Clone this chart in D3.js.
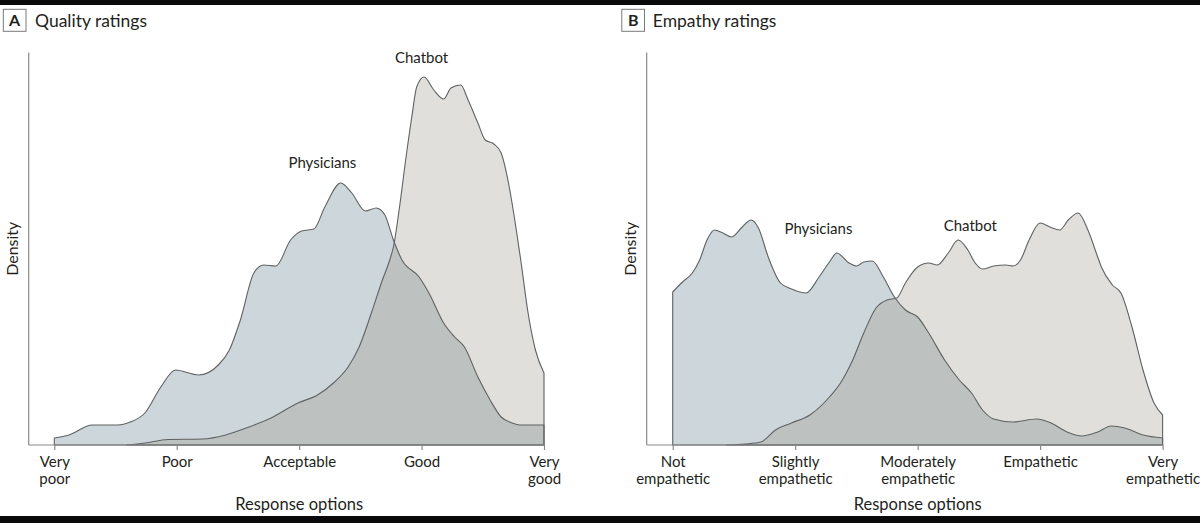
<!DOCTYPE html>
<html>
<head>
<meta charset="utf-8">
<script src="https://cdn.jsdelivr.net/npm/d3@7"></script>
<style>
  html, body { margin: 0; padding: 0; background: #fff; }
  svg { display: block; }
  text { font-family: "Lato", "Roboto", "Noto Sans", sans-serif; fill: #231f20; }
</style>
</head>
<body>
<svg id="chart" width="1200" height="523"></svg>
<script>
// ---------------- DATA ----------------
const ratingTicks = [1, 2, 3, 4, 5];
const qualityTickLabels = [["Very", "poor"], ["Poor"], ["Acceptable"], ["Good"], ["Very", "good"]];
const empathyTickLabels = [["Not", "empathetic"], ["Slightly", "empathetic"], ["Moderately", "empathetic"], ["Empathetic"], ["Very", "empathetic"]];
const seriesNames = ["Physicians", "Chatbot"];
const panelTitles = ["Quality ratings", "Empathy ratings"];
const panelLetters = ["A", "B"];

// [rating, density] (arbitrary density units)
const physQuality = [
  [1.00, 0.07], [1.12, 0.10], [1.31, 0.20], [1.52, 0.20], [1.62, 0.23], [1.74, 0.32],
  [1.87, 0.58], [1.99, 0.75], [2.18, 0.70], [2.34, 0.80], [2.43, 0.95], [2.52, 1.25],
  [2.63, 1.72], [2.71, 1.80], [2.81, 1.79], [2.93, 2.05], [3.02, 2.14], [3.12, 2.16],
  [3.21, 2.38], [3.34, 2.62], [3.43, 2.52], [3.54, 2.34], [3.63, 2.37], [3.70, 2.30],
  [3.77, 2.05], [3.84, 1.85], [3.98, 1.68], [4.06, 1.52], [4.18, 1.22], [4.27, 1.08],
  [4.35, 0.98], [4.46, 0.68], [4.56, 0.45], [4.65, 0.28], [4.74, 0.22], [4.80, 0.20],
  [5.00, 0.20]
];
const chatQuality = [
  [1.59, 0.00], [1.74, 0.02], [1.93, 0.055], [2.21, 0.06], [2.40, 0.10], [2.59, 0.18],
  [2.77, 0.27], [2.99, 0.42], [3.15, 0.50], [3.28, 0.62], [3.40, 0.78], [3.49, 0.98],
  [3.59, 1.32], [3.68, 1.65], [3.74, 1.85], [3.77, 1.98], [3.82, 2.38], [3.87, 2.85],
  [3.92, 3.28], [3.96, 3.58], [4.02, 3.68], [4.10, 3.55], [4.18, 3.46], [4.24, 3.57],
  [4.32, 3.60], [4.38, 3.45], [4.46, 3.22], [4.52, 3.05], [4.59, 3.01], [4.65, 2.92],
  [4.71, 2.62], [4.77, 2.18], [4.81, 1.85], [4.87, 1.32], [4.93, 0.95], [5.00, 0.72]
];
const physEmpathy = [
  [1.00, 1.53], [1.08, 1.63], [1.16, 1.72], [1.22, 1.85], [1.28, 2.05], [1.34, 2.15],
  [1.41, 2.12], [1.48, 2.08], [1.56, 2.17], [1.64, 2.25], [1.70, 2.17], [1.78, 1.88],
  [1.88, 1.62], [1.97, 1.56], [2.09, 1.52], [2.19, 1.67], [2.28, 1.83], [2.34, 1.92],
  [2.44, 1.82], [2.50, 1.79], [2.56, 1.83], [2.63, 1.84], [2.72, 1.68], [2.81, 1.48],
  [2.90, 1.35], [3.00, 1.28], [3.09, 1.12], [3.22, 0.85], [3.34, 0.65], [3.44, 0.52],
  [3.53, 0.35], [3.62, 0.26], [3.78, 0.23], [3.97, 0.26], [4.09, 0.22], [4.22, 0.13],
  [4.34, 0.09], [4.47, 0.13], [4.58, 0.19], [4.69, 0.17], [4.84, 0.10], [5.00, 0.07]
];
const chatEmpathy = [
  [1.44, 0.00], [1.59, 0.01], [1.72, 0.03], [1.84, 0.15], [1.97, 0.22], [2.12, 0.30],
  [2.28, 0.48], [2.37, 0.62], [2.47, 0.85], [2.56, 1.12], [2.66, 1.37], [2.75, 1.45],
  [2.83, 1.47], [2.90, 1.62], [3.00, 1.78], [3.09, 1.82], [3.16, 1.80], [3.25, 1.92],
  [3.33, 2.05], [3.41, 1.95], [3.47, 1.82], [3.53, 1.76], [3.62, 1.79], [3.72, 1.80],
  [3.78, 1.79], [3.84, 1.85], [3.91, 2.05], [4.00, 2.22], [4.08, 2.18], [4.16, 2.15],
  [4.23, 2.25], [4.31, 2.32], [4.39, 2.15], [4.47, 1.88], [4.50, 1.78], [4.59, 1.60],
  [4.66, 1.52], [4.75, 1.18], [4.84, 0.75], [4.93, 0.42], [5.00, 0.30]
];
const densityMax = 3.925;

// ---------------- DRAW ----------------
const svg = d3.select("#chart");
svg.append("rect").attr("x", 0).attr("y", 0).attr("width", 1200).attr("height", 5).attr("fill", "#0a0a0a");
svg.append("rect").attr("x", 0).attr("y", 516).attr("width", 1200).attr("height", 7).attr("fill", "#0a0a0a");

const panels = [
  { axisX: 28.7, x0: 54.3, x1: 544.0, boxX: 3.3, titleX: 35, phys: physQuality, chat: chatQuality,
    labels: qualityTickLabels, physLab: [3.19, 2.77], chatLab: [4.00, 3.82] },
  { axisX: 646.7, x0: 672.7, x1: 1162.6, boxX: 621.8, titleX: 652.8, phys: physEmpathy, chat: chatEmpathy,
    labels: empathyTickLabels, physLab: [2.19, 2.11], chatLab: [3.43, 2.14] }
];

const yTop = 52.5, yBase = 445;

panels.forEach((p, i) => {
  const g = svg.append("g");
  const x = d3.scaleLinear().domain([1, 5]).range([p.x0, p.x1]);
  const y = d3.scaleLinear().domain([0, densityMax]).range([yBase, yTop]);

  // header
  g.append("rect").attr("x", p.boxX).attr("y", 9.3).attr("width", 22.7).attr("height", 22)
    .attr("fill", "#fff").attr("stroke", "#7a7a7a").attr("stroke-width", 1);
  g.append("text").attr("x", p.boxX + 11.35).attr("y", 26).attr("text-anchor", "middle")
    .attr("font-size", 16).attr("font-weight", "bold").text(panelLetters[i]);
  g.append("text").attr("x", p.titleX).attr("y", 26.5).attr("font-size", 17.5).text(panelTitles[i]);

  const area = d3.area().x(d => x(d[0])).y0(y(0)).y1(d => y(d[1])).curve(d3.curveMonotoneX);

  g.append("path").datum(p.phys).attr("d", area).attr("fill", "#cdd6da");
  g.append("path").datum(p.chat).attr("d", area).attr("fill", "rgb(155,152,139)").attr("fill-opacity", 0.31);
  [p.phys, p.chat].forEach(s => {
    g.append("path").datum(s).attr("d", area).attr("fill", "none")
      .attr("stroke", "#5e6263").attr("stroke-width", 1.1).attr("stroke-linejoin", "round");
  });

  // axes
  g.append("line").attr("x1", p.axisX).attr("x2", p.axisX).attr("y1", yTop).attr("y2", yBase)
    .attr("stroke", "#8a8a8a").attr("stroke-width", 1.2);
  g.append("line").attr("x1", p.axisX).attr("x2", p.x1).attr("y1", yBase).attr("y2", yBase)
    .attr("stroke", "#8a8a8a").attr("stroke-width", 1.2);

  const ax = g.append("g").attr("transform", `translate(0,${yBase})`)
    .call(d3.axisBottom(x).tickValues(ratingTicks).tickSize(5).tickFormat(""));
  ax.select(".domain").remove();
  ax.selectAll(".tick line").attr("stroke", "#8a8a8a").attr("stroke-width", 1.2);
  ax.selectAll(".tick").each(function (d, j) {
    const t = d3.select(this).append("text").attr("text-anchor", "middle")
      .attr("font-size", 15).attr("fill", "#231f20");
    p.labels[j].forEach((line, k) => {
      t.append("tspan").attr("x", 0).attr("y", 22.3 + k * 17).text(line);
    });
  });

  // axis titles
  g.append("text").attr("x", (p.x0 + p.x1) / 2).attr("y", 510).attr("text-anchor", "middle")
    .attr("font-size", 16.5).text("Response options");
  g.append("text").attr("transform", `translate(${p.axisX - 11},${(yTop + yBase) / 2}) rotate(-90)`)
    .attr("text-anchor", "middle").attr("font-size", 16).text("Density");

  // series labels
  g.append("text").attr("x", x(p.physLab[0])).attr("y", y(p.physLab[1])).attr("text-anchor", "middle")
    .attr("font-size", 15).text(seriesNames[0]);
  g.append("text").attr("x", x(p.chatLab[0])).attr("y", y(p.chatLab[1])).attr("text-anchor", "middle")
    .attr("font-size", 15).text(seriesNames[1]);
});
</script>
</body>
</html>
